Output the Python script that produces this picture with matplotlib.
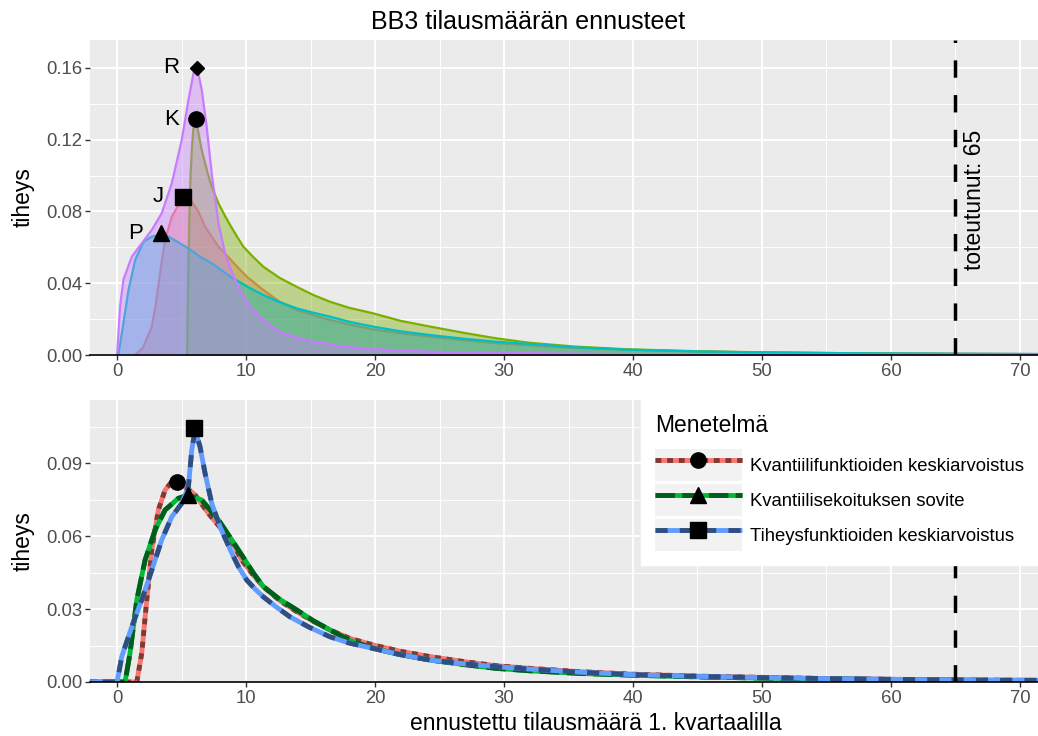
import matplotlib
matplotlib.use('Agg')
import matplotlib.pyplot as plt
from matplotlib.patches import Rectangle
from matplotlib.legend_handler import HandlerTuple

plt.rcParams['font.family'] = ['Liberation Sans', 'DejaVu Sans']

# --- data ---
realized = 65

# top panel: densities of the individual forecasts (J, K, P, R)
j_x = [1.4, 2.0, 2.69, 3.0, 3.33, 3.72, 4.24, 4.75, 5.3, 5.79, 6.3, 6.82, 7.86, 8.76, 9.4, 10.05,
       11.34, 12.6, 13.93, 15.2, 16.5, 18, 19.87, 22, 24.3, 27, 29.4, 32, 35, 40, 45, 50, 60, 75]
j_y = [0, 0.004, 0.0158, 0.028, 0.0455, 0.064, 0.077, 0.0836, 0.0855, 0.0855, 0.080, 0.0715,
       0.0604, 0.0535, 0.0485, 0.0437, 0.0362, 0.0297, 0.0251, 0.0222, 0.0196, 0.017, 0.0143,
       0.0121, 0.0102, 0.0082, 0.0066, 0.0053, 0.0042, 0.0028, 0.0019, 0.0014, 0.0008, 0.0004]
k_x = [5.43, 5.52, 5.6, 5.7, 5.8, 5.9, 6.0, 6.08, 6.2, 6.3, 6.56, 7.0, 7.34, 7.86, 8.37, 8.76,
       9.3, 9.79, 10.5, 11.34, 12.6, 13.93, 15.2, 16.5, 18, 19.87, 22, 24.3, 27, 29.4, 32, 35.5,
       39.5, 45, 50, 55, 60, 66, 75]
k_y = [0, 0.0455, 0.075, 0.101, 0.115, 0.125, 0.130, 0.131, 0.128, 0.124, 0.1143, 0.102,
       0.0938, 0.0845, 0.0775, 0.0725, 0.066, 0.0604, 0.055, 0.0492, 0.043, 0.038, 0.0335,
       0.0297, 0.0263, 0.0232, 0.019, 0.0158, 0.0122, 0.0093, 0.0068, 0.0047, 0.0032, 0.0021,
       0.0015, 0.0011, 0.0008, 0.0006, 0.0004]
p_x = [0.1, 0.49, 0.88, 1.4, 2.04, 2.69, 3.2, 3.98, 4.7, 5.53, 6.4, 7.34, 8.9, 10.1, 11.34,
       12.6, 13.93, 15.2, 16.5, 18, 19.87, 22, 24.3, 27, 29.4, 32, 35.5, 39.5, 45, 49.3, 55,
       59.1, 66, 75]
p_y = [0, 0.0177, 0.036, 0.053, 0.063, 0.066, 0.0668, 0.066, 0.063, 0.0594, 0.055, 0.0511,
       0.0432, 0.0381, 0.0334, 0.0295, 0.026, 0.0236, 0.0214, 0.0185, 0.0158, 0.0132, 0.0111,
       0.009, 0.0074, 0.0062, 0.0043, 0.003, 0.002, 0.0015, 0.0011, 0.0009, 0.0007, 0.0005]
r_x = [0, 0.23, 0.49, 1.14, 1.91, 2.69, 3.46, 4.24, 5.01, 5.53, 5.92, 6.05, 6.18, 6.3, 6.56,
       6.95, 7.34, 7.86, 8.37, 8.9, 9.53, 10.3, 11.34, 12.6, 13.9, 15.2, 17, 19.1, 21.5, 24.3,
       28, 32, 38, 45, 55, 75]
r_y = [0, 0.027, 0.042, 0.0548, 0.0622, 0.0697, 0.079, 0.0957, 0.1198, 0.142, 0.157, 0.1595,
       0.1589, 0.157, 0.148, 0.127, 0.101, 0.0734, 0.0567, 0.046, 0.036, 0.027, 0.0195, 0.013,
       0.0098, 0.0074, 0.0052, 0.0037, 0.0026, 0.0018, 0.0013, 0.001, 0.0006, 0.0004, 0.0002,
       0.0001]

top_names = ['J', 'K', 'P', 'R']
top_mode_x = [5.14, 6.1, 3.41, 6.18]
top_mode_y = [0.0883, 0.1315, 0.0678, 0.16]
top_label_x = [3.2, 4.2, 1.45, 4.2]

# bottom panel: combined forecasts
methods = ['Kvantiilifunktioiden keskiarvoistus', 'Kvantiilisekoituksen sovite',
           'Tiheysfunktioiden keskiarvoistus']
qa_x = [-3, 1.53, 1.91, 2.3, 2.69, 3.2, 3.72, 4.24, 4.65, 5.27, 6.05, 7.08, 8.37, 8.76, 9.66,
        10.5, 11.34, 12.6, 13.93, 15.2, 16.5, 18, 19.87, 22, 24.3, 27, 29.4, 32, 36, 40, 45, 50,
        55, 60, 66, 75]
qa_y = [0, 0, 0.0118, 0.0337, 0.0543, 0.0707, 0.0789, 0.0823, 0.0826, 0.0803, 0.0769, 0.0693,
        0.0611, 0.059, 0.0501, 0.0443, 0.0392, 0.0335, 0.0289, 0.025, 0.0214, 0.018, 0.0152,
        0.0126, 0.0104, 0.0083, 0.0067, 0.0056, 0.0042, 0.0032, 0.0024, 0.0019, 0.0014, 0.0011,
        0.0008, 0.0006]
qm_x = [-3, 0.62, 1.0, 1.53, 2.17, 2.95, 3.72, 4.75, 5.53, 6.56, 7.86, 8.89, 9.92, 10.6, 11.34,
        12.6, 13.93, 15.2, 16.5, 18, 19.87, 22, 24.3, 27, 29.4, 32, 36, 40, 45, 50, 55, 60, 66,
        75]
qm_y = [0, 0, 0.0118, 0.0337, 0.0501, 0.0625, 0.0707, 0.0755, 0.0768, 0.0748, 0.0666, 0.0584,
        0.0501, 0.0445, 0.0392, 0.034, 0.0296, 0.0252, 0.0214, 0.0172, 0.0138, 0.0112, 0.009,
        0.0071, 0.0056, 0.0046, 0.0035, 0.0028, 0.0021, 0.0016, 0.0013, 0.001, 0.0007, 0.0005]
da_x = [-3, 0, 0.36, 1.14, 1.91, 2.69, 3.46, 4.24, 5.01, 5.53, 5.79, 6.05, 6.43, 6.82, 7.34,
        7.98, 8.89, 9.4, 10.05, 10.7, 11.34, 12.3, 13.4, 14.9, 16.5, 18, 19.87, 22, 24.3, 27,
        29.4, 32, 36, 40, 45, 50, 55, 60, 66, 75]
da_y = [0, 0, 0.0104, 0.0227, 0.0337, 0.046, 0.0584, 0.0679, 0.0734, 0.0803, 0.0954, 0.1035,
        0.0967, 0.0858, 0.0734, 0.0638, 0.053, 0.0475, 0.0419, 0.0382, 0.035, 0.031, 0.0268,
        0.0225, 0.0186, 0.016, 0.0138, 0.0112, 0.009, 0.0074, 0.0063, 0.0053, 0.004, 0.003,
        0.0023, 0.0018, 0.0014, 0.0011, 0.0008, 0.0006]
bottom_mode_x = [4.68, 5.48, 5.99]
bottom_mode_y = [0.0823, 0.0769, 0.1043]

# --- styles ---
top_colors = ['#F8766D', '#7CAE00', '#00BFC4', '#C77CFF']
top_markers = ['s', 'o', '^', 'D']
top_msize = [11, 11, 12, 7]
bot_colors = ['#F8766D', '#00BA38', '#619CFF']
bot_dark = ['#7C3B36', '#005D1C', '#304E7F']
bot_dash = [(0, (1.2, 1.2)), (0, (4, 1.5)), (0, (2.5, 2.5))]
bot_markers = ['o', '^', 's']
bot_msize = [11, 12, 11]


def style_axes(ax, ymax, yticks, yminor):
    ax.set_facecolor('#EBEBEB')
    ax.set_xlim(-2.1, 71.4)
    ax.set_ylim(0, ymax)
    ax.set_xticks(range(0, 71, 10))
    ax.set_xticks(range(5, 71, 10), minor=True)
    ax.set_yticks(yticks)
    ax.set_yticklabels([f"{v:.2f}" for v in yticks])
    ax.set_yticks(yminor, minor=True)
    ax.grid(which='major', color='white', lw=1.4)
    ax.grid(which='minor', color='white', lw=0.7)
    ax.set_axisbelow(True)
    for s in ['top', 'right', 'left']:
        ax.spines[s].set_visible(False)
    ax.spines['bottom'].set_color('black')
    ax.spines['bottom'].set_linewidth(1.2)
    ax.spines['bottom'].set_zorder(20)
    ax.tick_params(which='major', length=3.5, width=1, color='#333333',
                   labelcolor='#4D4D4D', labelsize=13.3, pad=2)
    ax.tick_params(which='minor', length=0)
    ax.set_ylabel('tiheys', fontsize=16.5, labelpad=8)
    ax.axvline(realized, color='black', lw=2.5, ls=(0, (5, 5)), zorder=15)


fig = plt.figure(figsize=(10.38, 7.36), dpi=100)
ax1 = fig.add_axes([90 / 1038, 1 - 355 / 736, 948 / 1038, 315 / 736])
ax2 = fig.add_axes([90 / 1038, 1 - 682 / 736, 948 / 1038, 282 / 736])

# top panel
style_axes(ax1, 0.1756, [0, 0.04, 0.08, 0.12, 0.16], [0.02, 0.06, 0.10, 0.14])
top_series = [(j_x, j_y), (k_x, k_y), (p_x, p_y), (r_x, r_y)]
for i, (xs, ys) in enumerate(top_series):
    ax1.fill_between(xs, ys, 0, color=top_colors[i], alpha=0.4, lw=0, zorder=2 + i)
    ax1.plot(xs, ys, color=top_colors[i], lw=1.6, zorder=2 + i)
for i, name in enumerate(top_names):
    ax1.plot(top_mode_x[i], top_mode_y[i], marker=top_markers[i], color='black',
             ms=top_msize[i], ls='none', zorder=12)
    ax1.text(top_label_x[i], top_mode_y[i], name, fontsize=16, ha='center', va='center',
             zorder=12)
ax1.text(66.5, 0.0864, f"toteutunut: {realized}", rotation=90, fontsize=16.5,
         ha='center', va='center', zorder=16)

# bottom panel
style_axes(ax2, 0.1159, [0, 0.03, 0.06, 0.09], [0.015, 0.045, 0.075, 0.105])
bottom_series = [(qa_x, qa_y), (qm_x, qm_y), (da_x, da_y)]
handles = []
for i, (xs, ys) in enumerate(bottom_series):
    base, = ax2.plot(xs, ys, color=bot_colors[i], lw=3.5, zorder=3 + 2 * i,
                     solid_capstyle='butt')
    over, = ax2.plot(xs, ys, color=bot_dark[i], lw=3.5, ls=bot_dash[i], zorder=4 + 2 * i,
                     dash_capstyle='butt')
    mk, = ax2.plot(bottom_mode_x[i], bottom_mode_y[i], marker=bot_markers[i], color='black',
                   ms=bot_msize[i], ls='none', zorder=12)
    key = Rectangle((0, 0), 1, 1, facecolor='#F2F2F2', edgecolor='none')
    handles.append((key, base, over, mk))

leg = ax2.legend(handles, methods, title='Menetelmä', loc='upper right',
                 handler_map={tuple: HandlerTuple(ndivide=1, pad=0)},
                 fontsize=13.3, title_fontsize=16.4, alignment='left',
                 frameon=True, fancybox=False, framealpha=1, edgecolor='white',
                 facecolor='white', borderaxespad=0, borderpad=0.75,
                 handlelength=4.7, handleheight=2.3, handletextpad=0.45,
                 labelspacing=0.15)
leg._legend_box.sep = 9
leg.set_zorder(30)
ax2.set_xlabel('ennustettu tilausmäärä 1. kvartaalilla', fontsize=16.5, labelpad=4)
ax2.xaxis.label.set_x(0.534)

fig.text(0.509, 0.970, 'BB3 tilausmäärän ennusteet', fontsize=18, ha='center', va='center')

fig.savefig('out.png', dpi=100)
